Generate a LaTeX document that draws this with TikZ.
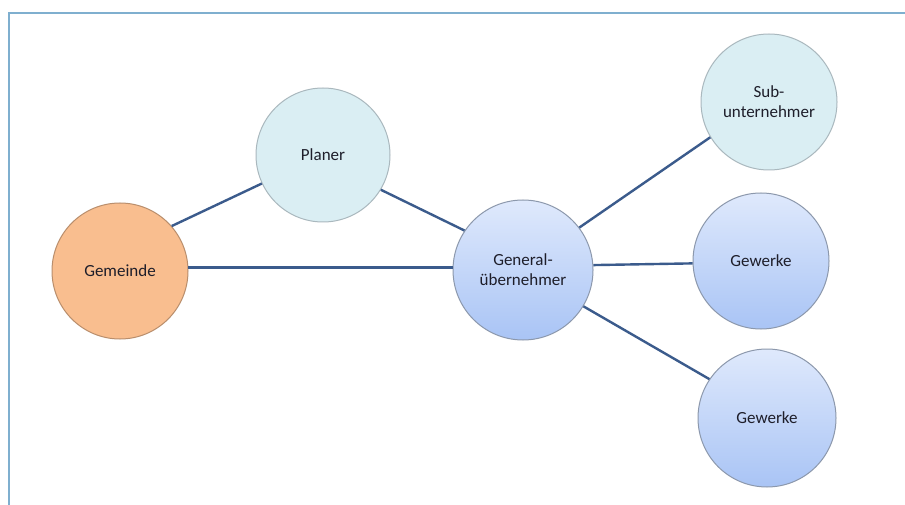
\documentclass[tikz,border=0pt]{standalone}
\usepackage{fontspec}
\setmainfont{Carlito}
\definecolor{framec}{HTML}{7FAFCF}
\definecolor{linec}{HTML}{3B5B8C}
\definecolor{orangef}{HTML}{F9BE8F}
\definecolor{oranged}{HTML}{B98E6C}
\definecolor{paleb}{HTML}{DAEEF3}
\definecolor{paled}{HTML}{AAB8BE}
\definecolor{gtop}{HTML}{DFE9FC}
\definecolor{gbot}{HTML}{A9C4F5}
\definecolor{gdraw}{HTML}{8C98AC}
\definecolor{txt}{HTML}{1E1E2A}
\begin{document}
\begin{tikzpicture}[x=1pt,y=-1pt,
  circ/.style={circle,inner sep=0pt,line width=1pt,text=txt,
    font=\fontsize{17}{20}\selectfont,align=center},
  orangec/.style={circ,fill=orangef,draw=oranged},
  palec/.style={circ,fill=paleb,draw=paled},
  gradc/.style={circ,top color=gtop,bottom color=gbot,draw=gdraw},
  conn/.style={draw=linec,line width=2.4pt}]
\useasboundingbox (0,0) rectangle (905,505);
\fill[white] (0,0) rectangle (905,505);
\draw[framec,line width=2pt] (9,505) -- (9,13) -- (905,13);
\node[orangec,minimum size=136pt] (gem) at (120,271) {Gemeinde};
\node[palec,minimum size=134pt] (plan) at (323,155) {Planer};
\node[gradc,minimum size=140pt] (gen) at (523,270) {General-\\übernehmer};
\node[palec,minimum size=136pt] (sub) at (769,102) {Sub-\\unternehmer};
\node[gradc,minimum size=136pt] (gw1) at (761,261) {Gewerke};
\node[gradc,minimum size=138pt] (gw2) at (767,418) {Gewerke};
\draw[conn] (gem.41) -- (plan.205);
\draw[conn] (plan.-31) -- (gen.146);
\draw[conn] (gem.3.4) -- (gem.3.4 -| gen.west);
\draw[conn] (gen.37) -- (sub.211);
\draw[conn] (gen.4) -- (gw1.182);
\draw[conn] (gen.-31.5) -- (gw2.146);
\end{tikzpicture}
\end{document}
